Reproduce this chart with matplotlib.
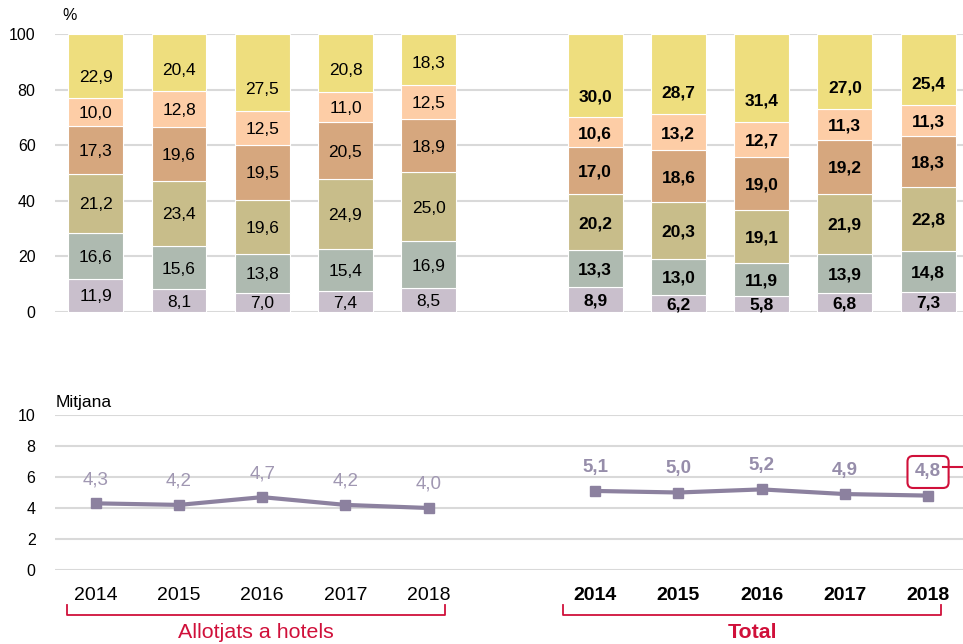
import matplotlib.pyplot as plt
import numpy as np

plt.rcParams['font.family'] = ['Liberation Sans', 'DejaVu Sans']

years = ['2014', '2015', '2016', '2017', '2018']

# stacked shares (%), bottom to top, Allotjats a hotels
hotel_s1 = [11.9, 8.1, 7.0, 7.4, 8.5]
hotel_s2 = [16.6, 15.6, 13.8, 15.4, 16.9]
hotel_s3 = [21.2, 23.4, 19.6, 24.9, 25.0]
hotel_s4 = [17.3, 19.6, 19.5, 20.5, 18.9]
hotel_s5 = [10.0, 12.8, 12.5, 11.0, 12.5]
hotel_s6 = [22.9, 20.4, 27.5, 20.8, 18.3]

# Total
total_s1 = [8.9, 6.2, 5.8, 6.8, 7.3]
total_s2 = [13.3, 13.0, 11.9, 13.9, 14.8]
total_s3 = [20.2, 20.3, 19.1, 21.9, 22.8]
total_s4 = [17.0, 18.6, 19.0, 19.2, 18.3]
total_s5 = [10.6, 13.2, 12.7, 11.3, 11.3]
total_s6 = [30.0, 28.7, 31.4, 27.0, 25.4]

# mitjana
hotel_mean = [4.3, 4.2, 4.7, 4.2, 4.0]
total_mean = [5.1, 5.0, 5.2, 4.9, 4.8]

colors = ['#C9BFCC', '#AEBAB0', '#C8BD8A', '#D6A77E', '#FDCDA6', '#EEDE7E']
red = '#D0103A'
line_col = '#8C819F'

hotel_segs = [hotel_s1, hotel_s2, hotel_s3, hotel_s4, hotel_s5, hotel_s6]
total_segs = [total_s1, total_s2, total_s3, total_s4, total_s5, total_s6]

xh = np.arange(5)
xt = np.arange(5) + 6

fig = plt.figure(figsize=(9.63, 6.44), dpi=100)
ax = fig.add_axes([55 / 963, 1 - 312 / 644, 1 - 55 / 963, (312 - 34) / 644])
ax2 = fig.add_axes([55 / 963, 1 - 570 / 644, 1 - 55 / 963, (570 - 415) / 644])

def stack(x, segs, bold):
    bottom = np.zeros(len(x))
    for i, seg in enumerate(segs):
        seg = np.array(seg)
        ax.bar(x, seg, 0.66, bottom=bottom, color=colors[i], edgecolor='white',
               linewidth=0.8, zorder=3)
        for xi, b, v in zip(x, bottom, seg):
            y = b + 7.5 if i == len(segs) - 1 else b + v / 2 - 0.5
            ax.text(xi, y, f'{v:.1f}'.replace('.', ','), ha='center', va='center',
                    fontsize=12.5, fontweight='bold' if bold else 'normal',
                    color='black', zorder=4)
        bottom += seg

stack(xh, hotel_segs, False)
stack(xt, total_segs, True)

for a in (ax, ax2):
    a.set_xlim(-0.49, 10.42)
    for s in a.spines.values():
        s.set_visible(False)
    a.tick_params(length=0, labelsize=11.5, pad=14)
    a.grid(axis='y', color='#D9D9D9', linewidth=1.5, zorder=0)
    a.set_axisbelow(True)

ax.set_ylim(0, 100)
ax.set_yticks([0, 20, 40, 60, 80, 100])
ax.set_xticks([])
ax.text(-0.32, 104, '%', fontsize=11.5, ha='center', va='bottom')

ax2.set_ylim(0, 10)
ax2.set_yticks([0, 2, 4, 6, 8, 10])
ax2.text(-0.48, 10.3, 'Mitjana', fontsize=12.5, ha='left', va='bottom')

ax2.plot(xh, hotel_mean, color=line_col, lw=3, marker='s', ms=7, zorder=3)
ax2.plot(xt, total_mean, color=line_col, lw=3, marker='s', ms=7, zorder=3)
for xi, v in zip(xh, hotel_mean):
    ax2.annotate(f'{v:.1f}'.replace('.', ','), (xi, v), xytext=(0, 17),
                 textcoords='offset points', ha='center', va='center',
                 fontsize=13.5, color='#A097B2')
for xi, v in zip(xt, total_mean):
    t = ax2.annotate(f'{v:.1f}'.replace('.', ','), (xi, v), xytext=(0, 17),
                     textcoords='offset points', ha='center', va='center',
                     fontsize=13.5, color='#968DAA', fontweight='bold')
t.set_bbox(dict(boxstyle='round,pad=0.4,rounding_size=0.3', fc='white',
                ec=red, lw=1.5))
fig.add_artist(plt.Line2D([943 / 963, 1], [1 - 467 / 644, 1 - 467 / 644],
                          color=red, lw=1.5))

ax2.set_xticks(list(xh) + list(xt))
ax2.set_xticklabels(years + years, fontsize=14)
ax2.tick_params(axis='x', pad=12)
for lbl in ax2.get_xticklabels()[5:]:
    lbl.set_fontweight('bold')

# brackets under year groups
def bracket(x0, x1, label, bold):
    yt, yb = -2.25, -2.9
    ax2.plot([x0, x0, x1, x1], [yt, yb, yb, yt], color=red, lw=1.3,
             clip_on=False, solid_joinstyle='round')
    ax2.text((x0 + x1) / 2, -4.05, label, color=red, fontsize=15.4,
             ha='center', va='center', fontweight='bold' if bold else 'normal')

bracket(-0.35, 4.2, 'Allotjats a hotels', False)
bracket(5.61, 10.16, 'Total', True)

fig.savefig('out.png', dpi=100)
